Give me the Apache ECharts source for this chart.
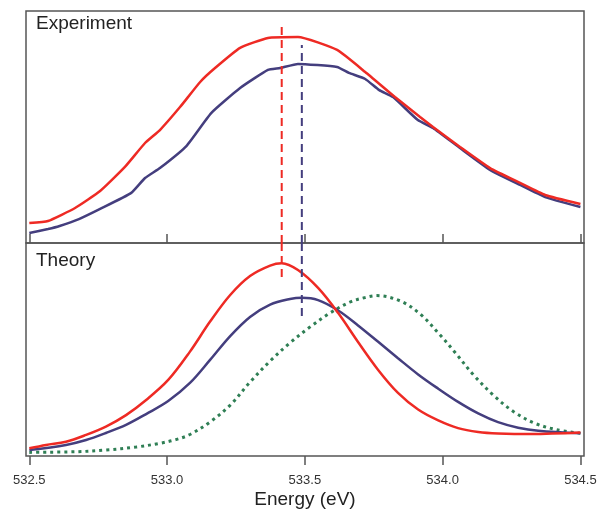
<!DOCTYPE html>
<html>
<head>
<meta charset="utf-8">
<script src="https://cdn.jsdelivr.net/npm/echarts@6/dist/echarts.min.js"></script>
<style>html,body{margin:0;padding:0;background:#fff}#c{width:598px;height:510px}</style>
</head>
<body>
<div id="c"></div>
<script>
// ---- Data ----
var tickValues = [532.5, 533.0, 533.5, 534.0, 534.5];

var expRedE = [532.50,532.568,532.666,532.757,532.847,532.92,532.974,533.047,533.12,533.174,533.265,533.366,533.475,533.617,533.719,533.827,533.918,533.965,534.063,534.172,534.281,534.372,534.50];
var expRedI = [0.086,0.095,0.151,0.224,0.328,0.431,0.487,0.586,0.694,0.754,0.841,0.884,0.888,0.832,0.737,0.629,0.543,0.500,0.414,0.323,0.259,0.207,0.168];

var expBlueE = [532.50,532.568,532.61,532.68,532.757,532.87,532.92,532.974,533.07,533.16,533.265,533.366,533.41,533.475,533.617,533.66,533.719,533.77,533.82,533.91,533.965,534.063,534.172,534.281,534.372,534.50];
var expBlueI = [0.043,0.060,0.073,0.103,0.147,0.216,0.280,0.323,0.418,0.560,0.668,0.746,0.754,0.772,0.759,0.733,0.707,0.659,0.629,0.530,0.496,0.409,0.315,0.250,0.198,0.155];

var thRedE = [532.500,532.561,532.633,532.706,532.778,532.851,532.924,533.004,533.083,533.156,533.229,533.301,533.374,533.416,533.475,533.548,533.621,533.693,533.766,533.838,533.911,533.984,534.056,534.129,534.201,534.321,534.500];
var thRedI = [0.036,0.052,0.067,0.099,0.138,0.192,0.263,0.357,0.490,0.631,0.756,0.845,0.894,0.905,0.873,0.789,0.671,0.535,0.404,0.296,0.218,0.167,0.131,0.113,0.106,0.103,0.110];

var thBlueE = [532.500,532.633,532.706,532.778,532.851,532.924,533.004,533.083,533.156,533.229,533.301,533.374,533.446,533.489,533.548,533.621,533.693,533.766,533.838,533.911,533.984,534.056,534.129,534.201,534.274,534.347,534.500];
var thBlueI = [0.028,0.052,0.075,0.108,0.146,0.197,0.258,0.343,0.451,0.563,0.653,0.711,0.737,0.743,0.732,0.683,0.613,0.536,0.459,0.383,0.316,0.254,0.200,0.159,0.133,0.119,0.107];

var thGreenE = [532.500,532.670,532.778,532.887,532.971,533.032,533.083,533.156,533.229,533.301,533.374,533.446,533.519,533.591,533.664,533.719,533.761,533.846,533.918,533.991,534.042,534.114,534.187,534.259,534.332,534.412,534.500];
var thGreenI = [0.017,0.020,0.028,0.042,0.059,0.077,0.101,0.160,0.239,0.347,0.446,0.531,0.606,0.671,0.723,0.744,0.753,0.728,0.667,0.568,0.491,0.378,0.282,0.207,0.155,0.124,0.107];

var peakRedE = 533.416, peakBlueE = 533.489;
var expDashTopRed = 0.944, expDashTopBlue = 0.853;
var thDashEndRed = 0.826, thDashEndBlue = 0.653;

// ---- Build ----
function pairs(xs, ys) { return xs.map(function (x, i) { return [x, ys[i]]; }); }

var RED = '#ee2a24', BLUE = '#443e7e', GREEN = '#2f7f55', FRAME = '#555', TXT = '#333';
var FONT = 'Liberation Sans, Arial, sans-serif';

var chart = echarts.init(document.getElementById('c'), null, {renderer: 'canvas'});
var xCommon = {
  type: 'value', min: 532.488, max: 534.513,
  splitLine: {show: false},
  axisLine: {show: false}
};
function curve(xi, data, color, width, type, smooth) {
  return {type: 'line', xAxisIndex: xi, yAxisIndex: xi, data: data, showSymbol: false,
    smooth: smooth, lineStyle: {color: color, width: width, type: type || 'solid'}};
}
chart.setOption({
  animation: false,
  title: [
    {text: 'Experiment', left: 31, top: 9, textStyle: {fontFamily: FONT, fontSize: 19, fontWeight: 'normal', color: '#222'}},
    {text: 'Theory', left: 31, top: 246, textStyle: {fontFamily: FONT, fontSize: 19, fontWeight: 'normal', color: '#222'}}
  ],
  grid: [
    {left: 26, top: 11, width: 558, height: 232, show: true, borderColor: FRAME, borderWidth: 1.5, backgroundColor: 'transparent', outerBoundsMode: 'none', containLabel: false},
    {left: 26, top: 243, width: 558, height: 213, show: true, borderColor: FRAME, borderWidth: 1.5, backgroundColor: 'transparent', outerBoundsMode: 'none', containLabel: false}
  ],
  xAxis: [
    Object.assign({}, xCommon, {gridIndex: 0,
      axisTick: {show: true, inside: true, length: 9, customValues: tickValues, lineStyle: {color: FRAME, width: 1.5}},
      axisLabel: {show: false}}),
    Object.assign({}, xCommon, {gridIndex: 1,
      axisTick: {show: true, inside: false, length: 9, customValues: tickValues, lineStyle: {color: FRAME, width: 1.5}},
      axisLabel: {show: true, customValues: tickValues, margin: 18, color: TXT, fontFamily: FONT, fontSize: 13,
        formatter: function (v) { return v.toFixed(1); }},
      name: 'Energy (eV)', nameLocation: 'middle', nameGap: 34,
      nameTextStyle: {fontFamily: FONT, fontSize: 19, color: '#222'}})
  ],
  yAxis: [
    {type: 'value', gridIndex: 0, min: 0, max: 1, show: false},
    {type: 'value', gridIndex: 1, min: 0, max: 1, show: false}
  ],
  series: [
    curve(0, pairs(expBlueE, expBlueI), BLUE, 2.5, 'solid', 0.15),
    curve(0, pairs(expRedE, expRedI), RED, 2.5, 'solid', 0.15),
    curve(0, [[peakRedE, 0], [peakRedE, expDashTopRed]], RED, 2, [8, 5], false),
    curve(0, [[peakBlueE, 0], [peakBlueE, expDashTopBlue]], BLUE, 2, [8, 5], false),

    curve(1, pairs(thGreenE, thGreenI), GREEN, 3, [3, 4], 0.35),
    curve(1, pairs(thBlueE, thBlueI), BLUE, 2.5, 'solid', 0.35),
    curve(1, pairs(thRedE, thRedI), RED, 2.5, 'solid', 0.35),
    curve(1, [[peakRedE, 1], [peakRedE, thDashEndRed]], RED, 2, [8, 5], false),
    curve(1, [[peakBlueE, 1], [peakBlueE, thDashEndBlue]], BLUE, 2, [8, 5], false)
  ]
});
</script>
</body>
</html>
